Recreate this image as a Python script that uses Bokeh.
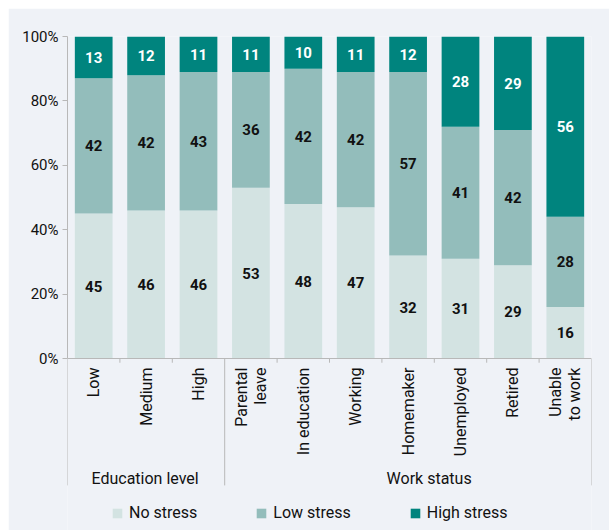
import math
from bokeh.plotting import figure
from bokeh.models import (FactorRange, FixedTicker, Legend, LegendItem, Arrow,
                          ColumnDataSource, Range1d, Label)
from bokeh.core.properties import value
from bokeh.embed import file_html
from bokeh.resources import INLINE

# ---- data ----
groups = ["Education level", "Education level", "Education level",
          "Work status", "Work status", "Work status", "Work status",
          "Work status", "Work status", "Work status"]
categories = ["Low", "Medium", "High", "Parental\nleave", "In education",
              "Working", "Homemaker", "Unemployed", "Retired", "Unable\nto work"]
no_stress = [45, 46, 46, 53, 48, 47, 32, 31, 29, 16]
low_stress = [42, 42, 43, 36, 42, 42, 57, 41, 42, 28]
high_stress = [13, 12, 11, 11, 10, 11, 12, 28, 29, 56]
series_names = ["No stress", "Low stress", "High stress"]
y_ticks = [0, 20, 40, 60, 80, 100]

colors = ["#D3E3E2", "#93BDBB", "#00847E"]
label_colors = ["#111111", "#111111", "#FFFFFF"]
BG = "#EFF2F7"
GREY = "#B8B8B8"
FONT = "Roboto"

src = ColumnDataSource(dict(cat=categories, no=no_stress, low=low_stress, high=high_stress))

# frame extends below 0 so that axis labels, group labels and legend sit inside it
p = figure(x_range=FactorRange(*categories, factor_padding=0, range_padding=0),
           y_range=Range1d(-53.4, 100),
           frame_width=524, frame_height=494,
           min_border_left=59, min_border_right=18, min_border_top=28,
           min_border_bottom=0,
           output_backend="svg", toolbar_location=None,
           background_fill_color=BG, border_fill_color=BG, outline_line_color=None)
p.margin = (8, 0, 0, 8)
p.xgrid.visible = False
p.ygrid.visible = False

renderers = p.vbar_stack(["no", "low", "high"], x="cat", width=0.72, source=src,
                         color=colors, line_color=None)

# segment labels
lx, ly, lt, lc = [], [], [], []
for i, c in enumerate(categories):
    base = 0
    for j, vals in enumerate([no_stress, low_stress, high_stress]):
        v = vals[i]
        top = min(base + v, 100)
        lx.append(c)
        ly.append((base + top) / 2)
        lt.append(str(v))
        lc.append(label_colors[j])
        base += v
lsrc = ColumnDataSource(dict(x=lx, y=ly, t=lt, c=lc))
p.text(x="x", y="y", text="t", text_color="c", source=lsrc,
       text_align="center", text_baseline="middle",
       text_font=value(FONT), text_font_size="15px", text_font_style="bold")

# y axis
ya = p.yaxis[0]
ya.ticker = FixedTicker(ticks=y_ticks)
ya.bounds = (0, 100)
ya.major_label_overrides = {t: f"{t}%" for t in y_ticks}
ya.axis_line_color = GREY
ya.major_tick_line_color = GREY
ya.major_tick_out = 5
ya.major_tick_in = 0
ya.minor_tick_line_color = None
ya.major_label_standoff = 4
ya.major_label_text_font = FONT
ya.major_label_text_font_size = "15px"
ya.major_label_text_color = "#111111"

# x axis fixed at 0%
xa = p.xaxis[0]
xa.fixed_location = 0
xa.axis_line_color = GREY
xa.major_tick_line_color = None
xa.major_tick_out = 0
xa.major_tick_in = 0
xa.major_label_standoff = 9
xa.major_label_orientation = math.pi / 2
xa.major_label_text_font = FONT
xa.major_label_text_font_size = "16px"
xa.major_label_text_color = "#111111"
xa.major_label_text_line_height = 1.0

# boundary ticks, group separators and group labels
n = len(categories)
group_edges = [0] + [i for i in range(1, n) if groups[i] != groups[i - 1]] + [n]
tick_x = [b for b in range(1, n) if b not in group_edges]
tsrc = ColumnDataSource(dict(x=tick_x, y0=[0] * len(tick_x), y1=[-1.3] * len(tick_x)))
p.add_layout(Arrow(x_start="x", y_start="y0", x_end="x", y_end="y1", source=tsrc,
                   end=None, line_color=GREY, line_width=1))
ssrc = ColumnDataSource(dict(x=group_edges, y0=[0] * len(group_edges),
                             y1=[-39.4] * len(group_edges)))
p.add_layout(Arrow(x_start="x", y_start="y0", x_end="x", y_end="y1", source=ssrc,
                   end=None, line_color=GREY, line_width=1))

group_offsets = [-1, 21]
for k in range(len(group_edges) - 1):
    a, b = group_edges[k], group_edges[k + 1]
    p.add_layout(Label(x=(a + b) / 2, y=-37.2, x_offset=group_offsets[k],
                       text=groups[a], text_align="center", text_baseline="middle",
                       text_font=FONT, text_font_size="16px", text_color="#111111"))

legend = Legend(items=[LegendItem(label=nm, renderers=[r]) for nm, r in zip(series_names, renderers)],
                orientation="horizontal", location=(44, 8),
                glyph_width=12, glyph_height=12, label_standoff=6, spacing=58,
                label_text_font=FONT, label_text_font_size="16px", label_text_color="#111111",
                border_line_color=None, background_fill_alpha=0, padding=0, margin=0)
p.add_layout(legend, "center")

html = file_html(p, INLINE)
html = html.replace("</head>", "<style>html, body { overflow: hidden; }</style></head>", 1)
open("out.html", "w").write(html)
